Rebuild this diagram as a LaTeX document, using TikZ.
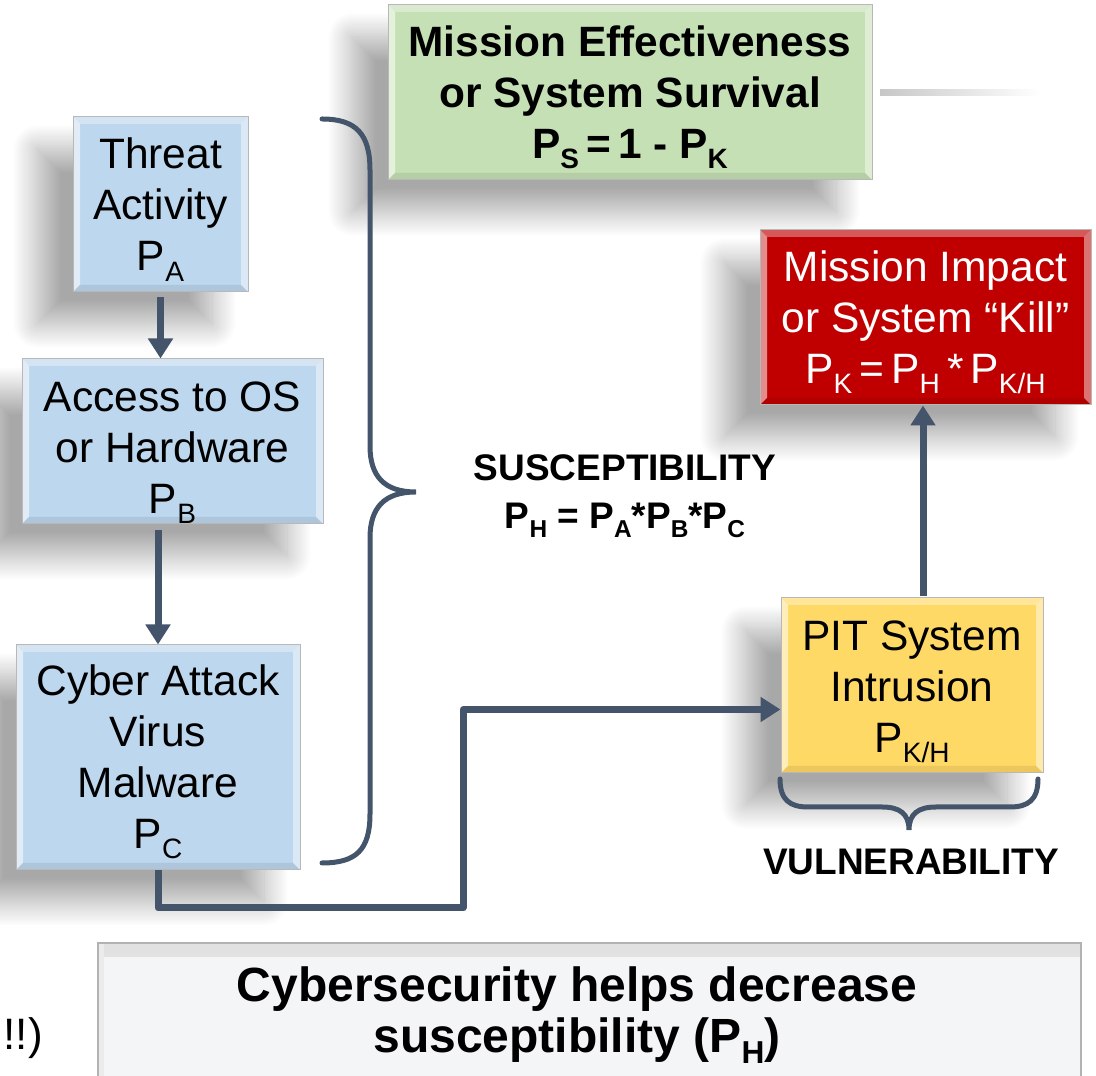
\documentclass[tikz,border=0pt]{standalone}
\usepackage{fontspec}
\setmainfont{Liberation Sans}
\usetikzlibrary{arrows.meta,shadows.blur,calc}

\definecolor{linecol}{HTML}{44546A}
\definecolor{bluebox}{HTML}{BDD7EE}
\definecolor{greenbox}{HTML}{C5E0B4}
\definecolor{redbox}{HTML}{C00000}
\definecolor{goldbox}{HTML}{FFD966}
\definecolor{notebox}{HTML}{F3F5F7}
\definecolor{rimcol}{HTML}{B8B8B8}

% lowered, smaller subscript in the current text font
\newcommand\sbs[1]{\raisebox{-0.24em}{\scalebox{0.66}{#1}}}
% invisible strut that makes a first line taller, pushing a text block down
\newcommand\topstrut[1]{\rule{0pt}{#1}}

\tikzset{
  bevel/.style={path picture={
    \fill[white,opacity=.55] (path picture bounding box.north west) -- (path picture bounding box.south west)
      -- ([shift={(7pt,7pt)}]path picture bounding box.south west) -- ([shift={(7pt,-7pt)}]path picture bounding box.north west) -- cycle;
    \fill[white,opacity=.45] (path picture bounding box.north east) -- (path picture bounding box.south east)
      -- ([shift={(-7pt,7pt)}]path picture bounding box.south east) -- ([shift={(-7pt,-7pt)}]path picture bounding box.north east) -- cycle;
    \fill[white,opacity=.35] (path picture bounding box.north west) -- (path picture bounding box.north east)
      -- ([shift={(-7pt,-7pt)}]path picture bounding box.north east) -- ([shift={(7pt,-7pt)}]path picture bounding box.north west) -- cycle;
    \fill[black,opacity=.08] (path picture bounding box.south west) -- (path picture bounding box.south east)
      -- ([shift={(-7pt,7pt)}]path picture bounding box.south east) -- ([shift={(7pt,7pt)}]path picture bounding box.south west) -- cycle;
  }},
  box/.style={rectangle, draw=rimcol, line width=1pt, align=center, inner sep=0pt,
    font=\fontsize{42.5}{51}\selectfont, bevel,
    blur shadow={shadow xshift=-36pt, shadow yshift=-32pt, shadow blur radius=24pt,
      shadow blur steps=24, shadow opacity=34}},
  boldbox/.style={box, font=\bfseries\fontsize{42.4}{51}\selectfont},
  lab/.style={align=center, inner sep=0pt, font=\bfseries\fontsize{37}{48}\selectfont},
  arr/.style={draw=linecol, line width=7pt, line join=round, -{Triangle[width=24pt,length=20pt]}},
  brc/.style={draw=linecol, line width=5pt, line cap=round},
}

\begin{document}
\begin{tikzpicture}[x=1pt,y=1pt]
\useasboundingbox (0,0) rectangle (1096,1076);

% boxes of the chain
\node[box, fill=bluebox, minimum width=175pt, minimum height=175pt] (threat) at (160.5,871.5)
  {\topstrut{41pt}Threat\\Activity\\P\sbs{A}};
\node[box, fill=bluebox, minimum width=301pt, minimum height=165pt] (access) at (172.5,634.5)
  {\topstrut{52pt}Access to OS\\or Hardware\\P\sbs{B}};
\node[box, fill=bluebox, minimum width=284pt, minimum height=225pt] (cyber) at (158,318.5)
  {\topstrut{39pt}Cyber Attack\\Virus\\Malware\\P\sbs{C}};
\node[boldbox, fill=greenbox, minimum width=484pt, minimum height=175pt] (survive) at (630,983.5)
  {\topstrut{41pt}Mission Effectiveness\\or System Survival\\P\sbs{S}\,=\,1 - P\sbs{K}};
\node[box, fill=redbox, text=white, minimum width=331pt, minimum height=175pt] (kill) at (925.5,758.5)
  {\topstrut{41pt}Mission Impact\\or System \textquotedblleft Kill\textquotedblright\\P\sbs{K}\,=\,P\sbs{H}\,*\,P\sbs{K/H}};
\node[box, fill=goldbox, minimum width=262pt, minimum height=175pt] (pit) at (912,390.5)
  {\topstrut{43pt}PIT System\\Intrusion\\P\sbs{K/H}};

% faint rule beside the survival box
\shade[left color=black!22, right color=white] (880,980) rectangle (1040,986);

% note box at the foot
\node[rectangle, draw=black!30, line width=1.5pt, fill=notebox, minimum width=983pt, minimum height=170pt,
  path picture={\shade[top color=black!12, bottom color=notebox] (path picture bounding box.north west)
    rectangle ([yshift=-14pt]path picture bounding box.north east);
    \fill[black!8] (path picture bounding box.north west) rectangle ([xshift=6pt]path picture bounding box.south west);}]
  (note) at (589.5,48) {};
\node[align=center, inner sep=0pt, font=\bfseries\fontsize{48}{51}\selectfont] (notetext) at (577,66)
  {\topstrut{45pt}Cybersecurity helps decrease\\susceptibility (P\sbs{H})};

\node[anchor=base east, inner sep=0pt, font=\fontsize{44}{48}\selectfont] (excl) at (43,26) {!!)};

% labels
\node[lab] (susc) at (625,584) {\topstrut{34.5pt}SUSCEPTIBILITY\\P\sbs{H} = P\sbs{A}*P\sbs{B}*P\sbs{C}};
\node[lab] (vuln) at (911,214) {VULNERABILITY};

% braces
\draw[brc] (322,957) .. controls (356,957) and (370,942) .. (370,906) -- (370,630)
  .. controls (370,600) and (384,584) .. (416,584)
  .. controls (384,584) and (370,568) .. (370,538) -- (370,262)
  .. controls (370,226) and (356,213) .. (322,213);
\draw[brc] (780,297) .. controls (780,276) and (790,269) .. (808,269) -- (882,269)
  .. controls (900,269) and (909,262) .. (909,246)
  .. controls (909,262) and (918,269) .. (936,269) -- (1010,269)
  .. controls (1028,269) and (1038,276) .. (1038,297);

% connectors
\draw[arr] ([yshift=-5pt]threat.south) -- (threat.south |- access.north);
\draw[arr] ([yshift=-6pt]access.south -| cyber.north) -- (cyber.north);
\coordinate (elbow) at (463,168);
\draw[arr] (cyber.south) |- (elbow) |- ([yshift=-24pt]pit.west);
\draw[arr] ([xshift=11pt,yshift=1pt]pit.north) -- ([xshift=11pt]pit.north |- kill.south);
\end{tikzpicture}
\end{document}
